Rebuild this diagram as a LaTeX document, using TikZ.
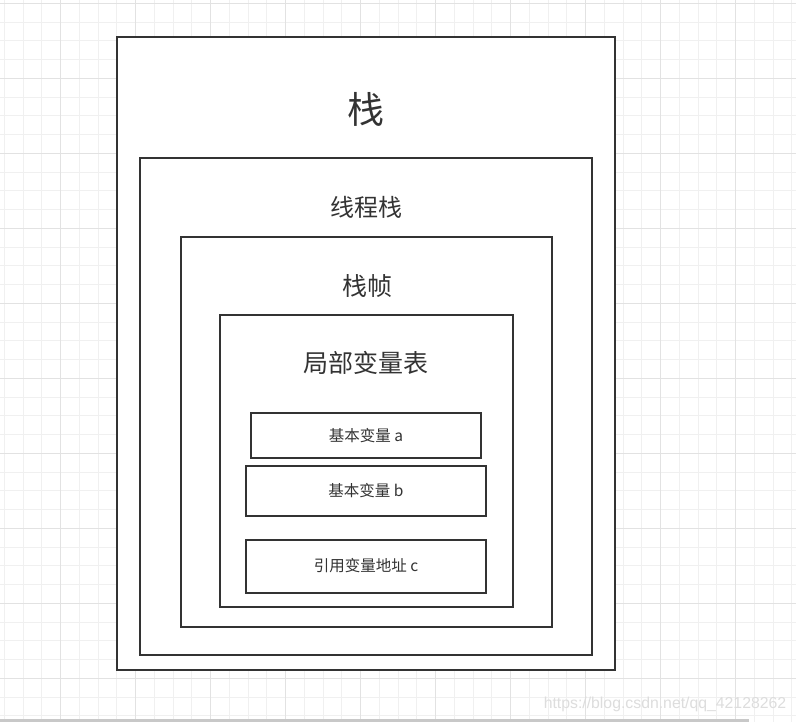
\documentclass[tikz,border=0pt]{standalone}
\usepackage{fontspec}
\newfontfamily\cjk{Noto Sans CJK SC}
\newfontfamily\wm{Liberation Sans}
\definecolor{ink}{HTML}{333333}
\definecolor{gridminor}{HTML}{F0F0F0}
\definecolor{gridmajor}{HTML}{E2E2E2}
\definecolor{wmcol}{HTML}{DDDDDD}
\definecolor{barcol}{HTML}{C8C8C8}
\tikzset{
  box/.style={draw=ink, line width=2pt, fill=white, inner sep=0pt},
  lbl/.style={text=ink, inner sep=0pt, font=\cjk},
}
\begin{document}
\begin{tikzpicture}[x=1pt,y=-1pt]
\useasboundingbox (0,0) rectangle (796,722);
\fill[white] (0,0) rectangle (796,722);
% grid
\foreach \i in {0,...,42} {
  \draw[gridminor, line width=0.8pt] ({4.25+18.75*\i},0) -- ({4.25+18.75*\i},722);
}
\foreach \i in {0,...,38} {
  \draw[gridminor, line width=0.8pt] (0,{3.3+18.75*\i}) -- (796,{3.3+18.75*\i});
}
\foreach \i in {0,...,10} {
  \draw[gridmajor, line width=0.8pt] ({60.5+75*\i},0) -- ({60.5+75*\i},722);
  \draw[gridmajor, line width=0.8pt] (0,{3.3+75*\i}) -- (796,{3.3+75*\i});
}
% boxes
\node[box, minimum width=498pt, minimum height=633pt] (stack) at (366,353.5) {};
\node[lbl, font=\cjk\fontsize{37}{40}\selectfont] (stackT) at (366,109.5) {栈};
\node[box, minimum width=452pt, minimum height=497pt] (thread) at (366,406.5) {};
\node[lbl, font=\cjk\fontsize{24}{28}\selectfont] (threadT) at (366,207) {线程栈};
\node[box, minimum width=371pt, minimum height=390pt] (frame) at (366.5,432) {};
\node[lbl, font=\cjk\fontsize{25}{28}\selectfont] (frameT) at (367,286) {栈帧};
\node[box, minimum width=293pt, minimum height=292pt] (local) at (366.5,461) {};
\node[lbl, font=\cjk\fontsize{25}{28}\selectfont] (localT) at (366,363) {局部变量表};
\node[box, minimum width=230pt, minimum height=45pt] (va) at (366,435.5) {};
\node[lbl, font=\cjk\fontsize{15.5}{18}\selectfont] (vaT) at (366,436) {基本变量 a};
\node[box, minimum width=240pt, minimum height=49.5pt] (vb) at (366,490.75) {};
\node[lbl, font=\cjk\fontsize{15.5}{18}\selectfont] (vbT) at (366,491) {基本变量 b};
\node[box, minimum width=240pt, minimum height=52.5pt] (vc) at (366,566.25) {};
\node[lbl, font=\cjk\fontsize{15.5}{18}\selectfont] (vcT) at (366,566) {引用变量地址 c};
% watermark and bar
\node[text=wmcol, inner sep=0pt, font=\wm\fontsize{15.8}{19}\selectfont] (wmark) at (665,704) {https://blog.csdn.net/qq\_42128262};
\fill[barcol] (0,719) rectangle (749,722);
\end{tikzpicture}
\end{document}
